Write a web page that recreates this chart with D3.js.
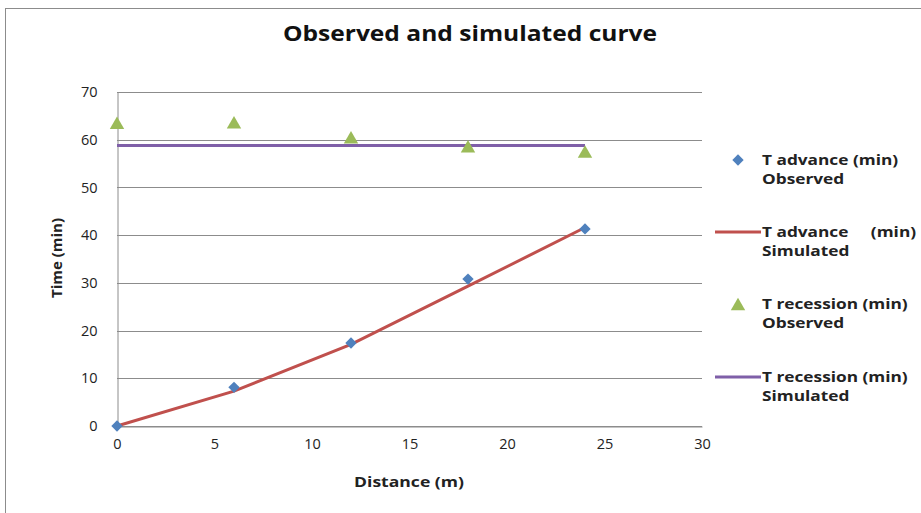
<!DOCTYPE html>
<html><head><meta charset="utf-8">
<script src="https://cdn.jsdelivr.net/npm/d3@7"></script>
<style>body{margin:0;background:#fff;} svg{display:block;font-family:"Open Sans",sans-serif;}</style>
</head><body><svg id="c" width="921" height="513"></svg>
<script>
const distance = [0, 6, 12, 18, 24];
const advObserved = [0, 8.1, 17.4, 30.8, 41.3];
const advSimulated = [0, 7.3, 17.1, 29.3, 41.6];
const recObserved = [63.1, 63.2, 60.1, 58.2, 57.1];
const recSimulated = [58.8, 58.8, 58.8, 58.8, 58.8];
const xTicks = [0, 5, 10, 15, 20, 25, 30];
const yTicks = [0, 10, 20, 30, 40, 50, 60, 70];
const legendLabels = [["T advance (min)", "Observed"], ["T advance     (min)", "Simulated"], ["T recession (min)", "Observed"], ["T recession (min)", "Simulated"]];

const svg = d3.select("#c");
svg.append("rect").attr("x", 5.5).attr("y", 8.5).attr("width", 930).attr("height", 520).attr("fill", "#fff").attr("stroke", "#8c8c8c");

function stretch(sel, f) {
  sel.each(function () {
    const w = this.getComputedTextLength();
    d3.select(this).attr("textLength", w * f).attr("lengthAdjust", "spacingAndGlyphs");
  });
}

const x = d3.scaleLinear().domain([0, 30]).range([117, 702]);
const y = d3.scaleLinear().domain([0, 70]).range([426, 92]);

// gridlines
svg.append("g").selectAll("line").data(yTicks).join("line")
  .attr("x1", x(0)).attr("x2", x(30)).attr("y1", d => Math.round(y(d)) + 0.5).attr("y2", d => Math.round(y(d)) + 0.5)
  .attr("stroke", "#8c8c8c").attr("stroke-width", 1);

// y axis
const ya = svg.append("g").attr("transform", `translate(${x(0) + 0.5},0)`)
  .call(d3.axisLeft(y).tickValues(yTicks).tickSize(0).tickPadding(20));
ya.select(".domain").attr("stroke", "#8c8c8c");
ya.selectAll("text").attr("font-size", 14.5).attr("fill", "#222").attr("font-family", "Open Sans");

// x axis
const xa = svg.append("g").attr("transform", `translate(0,${Math.round(y(0)) + 0.5})`)
  .call(d3.axisBottom(x).tickValues(xTicks).tickSize(0).tickPadding(12));
xa.select(".domain").attr("stroke", "#8c8c8c");
xa.selectAll("text").attr("font-size", 14.5).attr("fill", "#222").attr("font-family", "Open Sans");

const line = d3.line().x(d => x(d[0])).y(d => y(d[1]));
svg.append("path").datum(distance.map((d, i) => [d, recSimulated[i]])).attr("d", line)
  .attr("fill", "none").attr("stroke", "#7f5fa8").attr("stroke-width", 3);
svg.append("path").datum(distance.map((d, i) => [d, advSimulated[i]])).attr("d", line)
  .attr("fill", "none").attr("stroke", "#c0504d").attr("stroke-width", 3);

const diamond = d3.symbol().type(d3.symbolSquare).size(64);
svg.append("g").selectAll("path").data(distance.map((d, i) => [d, advObserved[i]])).join("path")
  .attr("d", diamond).attr("transform", d => `translate(${x(d[0])},${y(d[1])}) rotate(45)`).attr("fill", "#4f81bd");
const tri = d3.symbol().type(d3.symbolTriangle).size(90);
svg.append("g").selectAll("path").data(distance.map((d, i) => [d, recObserved[i]])).join("path")
  .attr("d", tri).attr("transform", d => `translate(${x(d[0])},${y(d[1])})`).attr("fill", "#9bbb59");

// title and axis labels
const title = svg.append("text").attr("x", 470).attr("y", 41).attr("text-anchor", "middle").attr("font-size", 21).attr("font-weight", "bold").attr("fill", "#111").text("Observed and simulated curve");
stretch(title, 1.17);
const xl = svg.append("text").attr("x", 409).attr("y", 487).attr("text-anchor", "middle").attr("font-size", 15).attr("font-weight", "bold").attr("fill", "#222").text("Distance (m)");
stretch(xl, 1.17);
const yl = svg.append("text").attr("transform", "translate(62,258) rotate(-90)").attr("text-anchor", "middle").attr("font-size", 15).attr("font-weight", "bold").attr("fill", "#222").text("Time (min)");
stretch(yl, 1.0);

// legend
const legY = [165, 237, 309, 382];
const lg = svg.append("g");
legendLabels.forEach((lab, i) => {
  const yy = legY[i];
  if (i === 0) lg.append("path").attr("d", diamond).attr("transform", `translate(738,${yy - 5}) rotate(45)`).attr("fill", "#4f81bd");
  if (i === 2) lg.append("path").attr("d", tri).attr("transform", `translate(738,${yy - 3})`).attr("fill", "#9bbb59");
  if (i === 1) lg.append("line").attr("x1", 715).attr("x2", 761).attr("y1", yy - 5).attr("y2", yy - 5).attr("stroke", "#c0504d").attr("stroke-width", 3);
  if (i === 3) lg.append("line").attr("x1", 715).attr("x2", 761).attr("y1", yy - 5).attr("y2", yy - 5).attr("stroke", "#7f5fa8").attr("stroke-width", 3);
  const t1 = lg.append("text").attr("x", 762).attr("y", yy).attr("font-size", 15).attr("font-weight", "bold").attr("fill", "#222").attr("xml:space", "preserve").text(lab[0]);
  const t2 = lg.append("text").attr("x", 762).attr("y", yy + 19).attr("font-size", 15).attr("font-weight", "bold").attr("fill", "#222").text(lab[1]);
  stretch(t1, 1.15);
  stretch(t2, 1.15);
});
</script></body></html>
